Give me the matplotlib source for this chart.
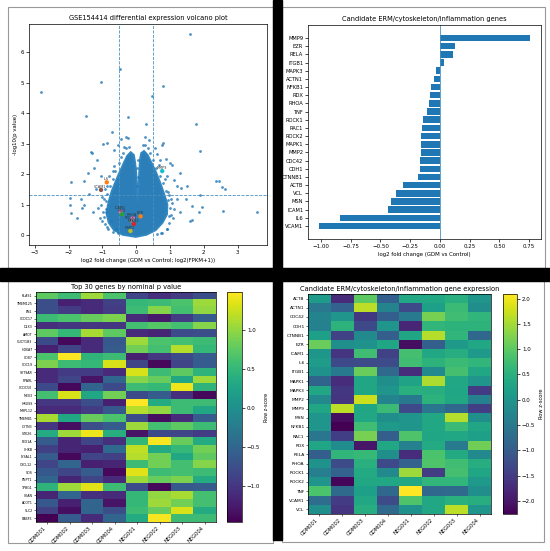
import matplotlib
matplotlib.use("Agg")
import matplotlib.pyplot as plt
import numpy as np
from matplotlib.patches import Rectangle

W, H = 550, 551

# ---- volcano: dense cloud outline + individual sparse points ----
cloud_x = [-0.01, -0.40, -0.65, -0.80, -0.86, -0.83, -0.78, -0.71, -0.61, -0.51, -0.42, -0.33,
           -0.25, -0.16, -0.08, -0.04, -0.01, 0.01, 0.03, 0.05, 0.07, 0.09, 0.11, 0.13, 0.16,
           0.23, 0.33, 0.44, 0.57, 0.70, 0.82, 0.91, 0.90, 0.77, 0.57, 0.30, -0.01]
cloud_y = [-0.05, 0.02, 0.17, 0.41, 0.68, 0.95, 1.17, 1.44, 1.71, 1.98, 2.20, 2.42,
           2.60, 2.70, 2.62, 2.35, 2.03, 1.60, 1.25, 1.10, 1.35, 1.75, 2.20, 2.50, 2.68,
           2.74, 2.62, 2.37, 2.07, 1.71, 1.33, 1.01, 0.68, 0.41, 0.17, 0.02, -0.05]

sparse_x = [1.58, -0.48, -1.05, 0.78, 0.48, -2.82, -1.48, -0.25, 0.29, 1.78, 1.88,
            -1.34, -1.30, -0.98, -0.87, -0.72, -0.31, -0.24, -0.46, 0.27, 0.37, 0.80, 0.76,
            1.00, 1.06, 0.89, 0.61, -1.42, -1.24, -1.15, -1.05, -1.55, -1.93, -0.85, -1.20,
            -1.39, -1.64, -1.54, -1.29, -1.14, -1.08, -0.87, -1.75, -1.96, -1.95, -1.93, -1.59,
            -0.95, -1.05, -0.90, -0.75, -0.60, 1.12, 1.22, 1.33, 1.22, 1.50, 1.46, 1.66, 1.58,
            1.66, 1.86, 1.95, 1.90, 2.37, 2.46, 2.55, 2.64, 2.56, 3.56, 1.03, 1.12, 0.97, 1.31,
            0.92, 0.72, 1.31, 0.92, -0.65, -0.55, 0.55, 0.70, 0.95, -0.70, -0.35, 0.20,
            -0.92, -0.95, -0.90, -0.88, -0.85, -0.78, -0.70, -0.62, -0.52, -0.45, -0.38, -0.30,
            -0.20, -1.00, -0.98, -0.83, -0.70, -0.55, -1.02, -0.93, -0.80, -0.66,
            0.98, 1.02, 1.00, 0.95, 0.88, 0.80, 0.70, 0.60, 0.50, 0.42, 0.35, 0.25,
            0.90, 0.75, 1.08, 0.62, 1.05, 0.97, 0.84, 0.68, 0.03, 0.05, 0.02, 0.06]
sparse_y = [6.60, 5.45, 5.03, 4.88, 4.55, 4.69, 3.92, 3.87, 3.64, 3.64, 2.75,
            2.74, 2.70, 2.99, 3.01, 3.39, 3.23, 3.18, 3.16, 3.22, 3.11, 3.01, 2.94,
            2.36, 2.30, 2.50, 2.66, 2.03, 2.19, 2.46, 1.93, 1.76, 1.74, 1.60, 1.50,
            1.34, 1.17, 0.97, 0.74, 0.88, 0.57, 0.25, 0.55, 1.21, 0.98, 0.73, 0.89,
            1.17, 1.00, 0.74, 0.46, 0.19, 1.82, 1.60, 1.55, 1.17, 1.60, 1.17, 0.96, 0.46,
            0.50, 0.74, 0.93, 1.30, 1.76, 1.76, 1.59, 1.52, 0.79, 0.74, 1.17, 0.84, 0.63, 0.74,
            0.19, 0.08, 2.03, 1.93, 2.80, 2.95, 2.85, 2.45, 1.40, 2.10, 2.90, 2.95,
            0.35, 0.60, 0.85, 1.10, 1.35, 1.60, 1.85, 2.10, 2.35, 2.55, 2.70, 2.85,
            2.90, 0.45, 0.75, 0.20, 0.10, 0.05, 1.25, 1.50, 1.95, 2.25,
            0.40, 0.65, 0.90, 1.15, 1.45, 1.70, 1.95, 2.20, 2.45, 2.70, 2.85, 2.95,
            0.20, 0.08, 0.55, 0.02, 1.05, 1.30, 1.85, 2.30, 1.60, 1.90, 2.20, 2.45]

hl_genes = ["MMP9", "IL6", "VCAM1", "ICAM1", "MSN", "EZR", "RHOA", "ROCK1", "NFKB1", "MMP2"]
hl_x = [0.77, -0.87, -1.04, -0.46, -0.42, 0.13, -0.10, -0.14, -0.07, -0.17]
hl_y = [2.10, 1.73, 1.48, 0.77, 0.68, 0.61, 0.55, 0.46, 0.36, 0.13]
hl_colors = ["#17becf", "#ff7f0e", "#8c564b", "#e377c2", "#2ca02c", "#ff7f0e",
             "#e377c2", "#7f7f7f", "#d62728", "#bcbd22"]

# ---- candidate gene fold changes ----
bar_genes = ["VCAM1", "IL6", "ICAM1", "MSN", "VCL", "ACTB", "CTNNB1", "CDH1", "CDC42", "MMP2",
             "MAPK1", "ROCK2", "RAC1", "ROCK1", "TNF", "RHOA", "RDX", "NFKB1", "ACTN1", "MAPK3",
             "ITGB1", "RELA", "EZR", "MMP9"]
bar_lfc = [-1.02, -0.84, -0.44, -0.41, -0.37, -0.31, -0.185, -0.171, -0.168, -0.163,
           -0.16, -0.16, -0.154, -0.143, -0.113, -0.094, -0.085, -0.072, -0.052, -0.033,
           0.033, 0.113, 0.13, 0.76]

samples = ["GDM001", "GDM002", "GDM003", "GDM004", "NEG001", "NEG002", "NEG003", "NEG004"]

# ---- top 30 genes heatmap (row z-scores) ----
top_genes = ["KLAS1", "TMEM125", "EN1", "CCDC17", "DLX3", "AMOT", "GUCY1B3", "HOXA7", "CD87",
             "CDC19", "SYT9AR", "PPARL", "CCDC50", "MEX3", "HRUSS", "MRPL12", "TMEM81", "CYTN3",
             "STK26", "PEX1A", "CHKB", "LYSAL1", "CXCL12", "SDS", "PNPT1", "TPBG1", "CKAN",
             "ACOT1", "SLC2", "RABF5"]
top_z = [
    [0.75, 0.55, 1.05, 0.65, -0.85, -1.05, -0.95, -0.75],
    [-0.75, -1.20, -1.10, -0.90, 0.50, 0.55, 0.65, 1.05],
    [-0.75, -0.95, -1.10, -0.95, 0.55, 0.95, 0.60, 1.00],
    [0.55, 0.65, 0.80, 0.90, -1.10, -1.25, -0.95, -0.60],
    [-1.05, -1.00, -1.00, -1.00, 0.60, 0.70, 0.60, 0.95],
    [0.75, 0.50, 1.10, 0.75, -1.10, -1.15, -0.80, -0.75],
    [-0.80, -1.40, -1.10, -0.65, 1.05, 0.65, 0.60, 0.55],
    [-1.20, -0.85, -1.10, -0.60, 0.85, 0.60, 1.15, 0.50],
    [0.65, 1.46, 0.45, 0.55, -1.20, -1.00, -0.80, -0.60],
    [0.90, 0.55, 0.50, 1.30, -0.85, -1.40, -0.85, -0.60],
    [-1.10, -0.95, -0.95, -1.10, 1.30, 0.55, 0.75, 0.45],
    [-1.10, -0.85, -1.30, -0.50, 0.95, 0.80, 0.30, 1.05],
    [-0.80, -1.40, -0.50, -0.80, 0.55, 0.50, 1.40, 0.45],
    [0.60, 1.30, 0.30, 0.85, -0.80, -0.60, -1.05, -1.40],
    [-1.00, -1.00, -0.75, -1.20, 1.48, 0.35, 0.55, 0.55],
    [-1.10, -1.10, -0.95, -0.65, 1.15, 1.00, 0.55, 0.30],
    [1.10, 0.30, 0.80, 0.65, -0.80, -1.35, -1.10, -0.60],
    [-1.00, -1.35, -0.75, -0.60, 1.05, 0.60, 0.75, 0.55],
    [0.35, 1.05, 1.40, 0.40, -1.30, -0.80, -0.85, -0.95],
    [-0.60, -1.15, -0.85, -1.05, 0.50, 1.45, 0.80, 0.35],
    [-0.90, -1.15, -1.20, -0.45, 1.20, 0.35, 0.50, 0.85],
    [-0.60, -1.40, -0.85, -0.90, 1.15, 0.85, 0.30, 0.75],
    [-0.85, -0.50, -1.20, -1.15, 0.55, 0.85, 0.60, 0.95],
    [-0.65, -0.85, -0.60, -1.40, 1.35, 0.55, 0.60, 0.55],
    [-0.50, -1.15, -0.85, -1.10, 1.05, 0.80, 0.90, 0.35],
    [0.45, 1.05, 1.35, 0.55, -0.80, -1.40, -0.65, -0.60],
    [-1.15, -0.50, -1.05, -1.10, 0.50, 1.00, 1.10, 0.60],
    [-0.65, -1.20, -0.50, -1.30, 0.50, 1.05, 0.85, 0.60],
    [-0.90, -1.35, -0.50, -0.75, 0.55, 0.80, 1.30, 0.35],
    [-1.46, -0.60, -1.10, -0.50, 0.35, 1.45, 0.55, 0.55],
]

# ---- candidate gene heatmap (row z-scores) ----
cand_genes = ["ACTB", "ACTN1", "CDC42", "CDH1", "CTNNB1", "EZR", "ICAM1", "IL6", "ITGB1", "MAPK1",
              "MAPK3", "MMP2", "MMP9", "MSN", "NFKB1", "RAC1", "RDX", "RELA", "RHOA", "ROCK1",
              "ROCK2", "TNF", "VCAM1", "VCL"]
cand_z = [
    [0.13, -1.74, 1.00, -0.96, 0.35, 0.35, 0.48, 0.00],
    [-0.52, -0.90, 1.66, -0.30, -1.30, 0.20, 0.70, -0.10],
    [-0.30, 0.00, -1.55, -0.95, -0.45, 1.20, 0.75, 0.60],
    [-0.35, 0.55, -1.30, 0.00, -1.80, 0.60, 0.55, 0.55],
    [0.20, -1.40, -0.20, -0.95, 0.30, 1.60, 0.60, -0.80],
    [1.10, -0.10, -0.05, 0.30, -2.10, -0.95, 0.10, 0.35],
    [0.05, -1.60, 0.75, -1.40, 0.80, 0.35, 0.45, 0.10],
    [0.15, -1.30, -1.25, -1.25, 0.75, 0.55, 0.70, 0.60],
    [-0.05, -0.50, 1.10, -0.75, -1.70, -0.20, 0.80, 0.35],
    [-0.85, -1.70, 0.30, -0.10, 0.25, 1.55, 0.35, 0.00],
    [0.35, -1.55, 0.30, 0.00, 0.50, 0.45, 0.30, -1.50],
    [-0.20, -1.60, 1.75, -0.30, -0.50, 0.55, 0.35, -0.35],
    [0.30, 1.65, 0.30, 0.70, -1.30, -0.55, -0.80, -1.45],
    [0.00, -2.10, 0.35, -0.10, 0.00, 0.35, 1.60, -0.10],
    [0.00, -2.26, 0.75, 0.10, 0.00, 0.35, 0.70, 0.30],
    [-0.55, -1.45, 1.20, -0.95, 0.90, 0.30, 0.35, 0.20],
    [0.30, -0.15, -2.00, 0.35, -0.35, 0.40, -0.45, 1.15],
    [-0.95, 0.60, 0.65, -0.10, -1.70, 0.85, 0.40, -0.20],
    [-0.05, -1.25, 0.50, -1.30, -0.90, 0.90, 0.75, 0.45],
    [-0.40, -0.90, 0.40, -0.20, 1.45, -1.50, 0.80, 0.30],
    [0.00, -2.20, 0.35, 0.35, 0.35, 0.60, 0.60, 0.10],
    [0.85, -0.75, 0.20, -0.80, 2.09, -0.80, -0.75, -0.10],
    [-0.70, -1.50, 0.35, -1.25, 0.90, 0.35, 0.50, 0.45],
    [-0.10, -1.60, 0.45, -0.75, -0.05, 0.35, 1.65, 0.00],
]


def rect(l, t, r, b):
    return [l / W, 1 - b / H, (r - l) / W, (b - t) / H]


fig = plt.figure(figsize=(5.5, 5.51), dpi=100)
fig.patch.set_facecolor("white")

# panel frames and black separators, kept behind the axes
for l, t, r, b in [(8, 7, 273, 268), (282, 7, 545, 268), (8, 281, 273, 543), (282, 281, 544, 542)]:
    fig.patches.append(Rectangle((l / W, 1 - b / H), (r - l) / W, (b - t) / H,
                                 transform=fig.transFigure, facecolor="white",
                                 edgecolor="#999999", linewidth=0.8, zorder=-3))
for l, t, r, b in [(273, 0, 282, 540), (0, 268, 550, 281)]:
    fig.patches.append(Rectangle((l / W, 1 - b / H), (r - l) / W, (b - t) / H,
                                 transform=fig.transFigure, color="black", zorder=-2))

tfs, lfs, kfs = 4.8, 3.9, 4.0

# ---- volcano ----
ax1 = fig.add_axes(rect(29, 24, 267, 245))
ax1.fill(cloud_x, cloud_y, color="#1f77b4", alpha=0.95, lw=2.0, ec="#2b82bd")
ax1.scatter(sparse_x, sparse_y, s=4, color="#1f77b4", alpha=0.8, lw=0)
ax1.scatter(hl_x, hl_y, s=10, c=hl_colors, lw=0, zorder=3)
for g, x, y in zip(hl_genes, hl_x, hl_y):
    ax1.text(x - 0.02, y + 0.07, g, fontsize=2.5, ha="center", color="#333333", zorder=4)
ax1.axvline(-0.5, ls="--", lw=0.6, color="#4a90c2")
ax1.axvline(0.5, ls="--", lw=0.6, color="#4a90c2")
ax1.axhline(1.3, ls="--", lw=0.6, color="#4a90c2")
ax1.set_xlim(-3.17, 3.87)
ax1.set_ylim(-0.33, 6.93)
ax1.set_title("GSE154414 differential expression volcano plot", fontsize=tfs, pad=3)
ax1.set_xlabel("log2 fold change (GDM vs Control; log2(FPKM+1))", fontsize=lfs, labelpad=2)
ax1.set_ylabel("-log10(p value)", fontsize=lfs, labelpad=2)
ax1.tick_params(labelsize=kfs, length=2, width=0.5, pad=1.5)

# ---- candidate bar chart ----
ax2 = fig.add_axes(rect(308, 25, 541, 239))
ax2.barh(bar_genes, bar_lfc, color="#1f77b4", height=0.8)
ax2.axvline(0, lw=0.6, color="#4a90c2")
ax2.set_title("Candidate ERM/cytoskeleton/inflammation genes", fontsize=tfs, pad=3)
ax2.set_xlabel("log2 fold change (GDM vs Control)", fontsize=lfs, labelpad=2)
ax2.set_xticks([-1.0, -0.75, -0.5, -0.25, 0.0, 0.25, 0.5, 0.75])
ax2.tick_params(labelsize=kfs, length=2, width=0.5, pad=1.5)
ax2.tick_params(axis="y", labelsize=3.7)

# ---- top 30 heatmap ----
ax3 = fig.add_axes(rect(36, 292, 216, 522))
im3 = ax3.imshow(np.array(top_z), aspect="auto", cmap="viridis", interpolation="nearest")
ax3.set_title("Top 30 genes by nominal p value", fontsize=tfs, pad=2)
ax3.set_yticks(range(len(top_genes)))
ax3.set_yticklabels(top_genes, fontsize=2.3)
ax3.set_xticks(range(len(samples)))
ax3.set_xticklabels(samples, fontsize=3.7, rotation=45, ha="right")
ax3.tick_params(length=1.5, width=0.4, pad=1)
cax3 = fig.add_axes(rect(227, 292, 242, 522))
cb3 = fig.colorbar(im3, cax=cax3)
cb3.set_ticks([-1.0, -0.5, 0.0, 0.5, 1.0])
cb3.ax.tick_params(labelsize=kfs, length=2, width=0.5, pad=1.5)
cb3.set_label("Row z-score", fontsize=3.5, labelpad=3)
cb3.outline.set_linewidth(0.5)

# ---- candidate heatmap ----
ax4 = fig.add_axes(rect(308, 294, 491, 514))
im4 = ax4.imshow(np.array(cand_z), aspect="auto", cmap="viridis", interpolation="nearest")
ax4.set_title("Candidate ERM/cytoskeleton/inflammation gene expression", fontsize=tfs, pad=2)
ax4.set_yticks(range(len(cand_genes)))
ax4.set_yticklabels(cand_genes, fontsize=3.2)
ax4.set_xticks(range(len(samples)))
ax4.set_xticklabels(samples, fontsize=3.7, rotation=45, ha="right")
ax4.tick_params(length=1.5, width=0.4, pad=1)
cax4 = fig.add_axes(rect(503, 294, 517, 514))
cb4 = fig.colorbar(im4, cax=cax4)
cb4.set_ticks([-2.0, -1.5, -1.0, -0.5, 0.0, 0.5, 1.0, 1.5, 2.0])
cb4.ax.tick_params(labelsize=kfs, length=2, width=0.5, pad=1.5)
cb4.set_label("Row z-score", fontsize=3.7, labelpad=3)
cb4.outline.set_linewidth(0.5)

for a in (ax1, ax2, ax3, ax4):
    for s in a.spines.values():
        s.set_linewidth(0.5)

fig.savefig("out.png", dpi=100)
